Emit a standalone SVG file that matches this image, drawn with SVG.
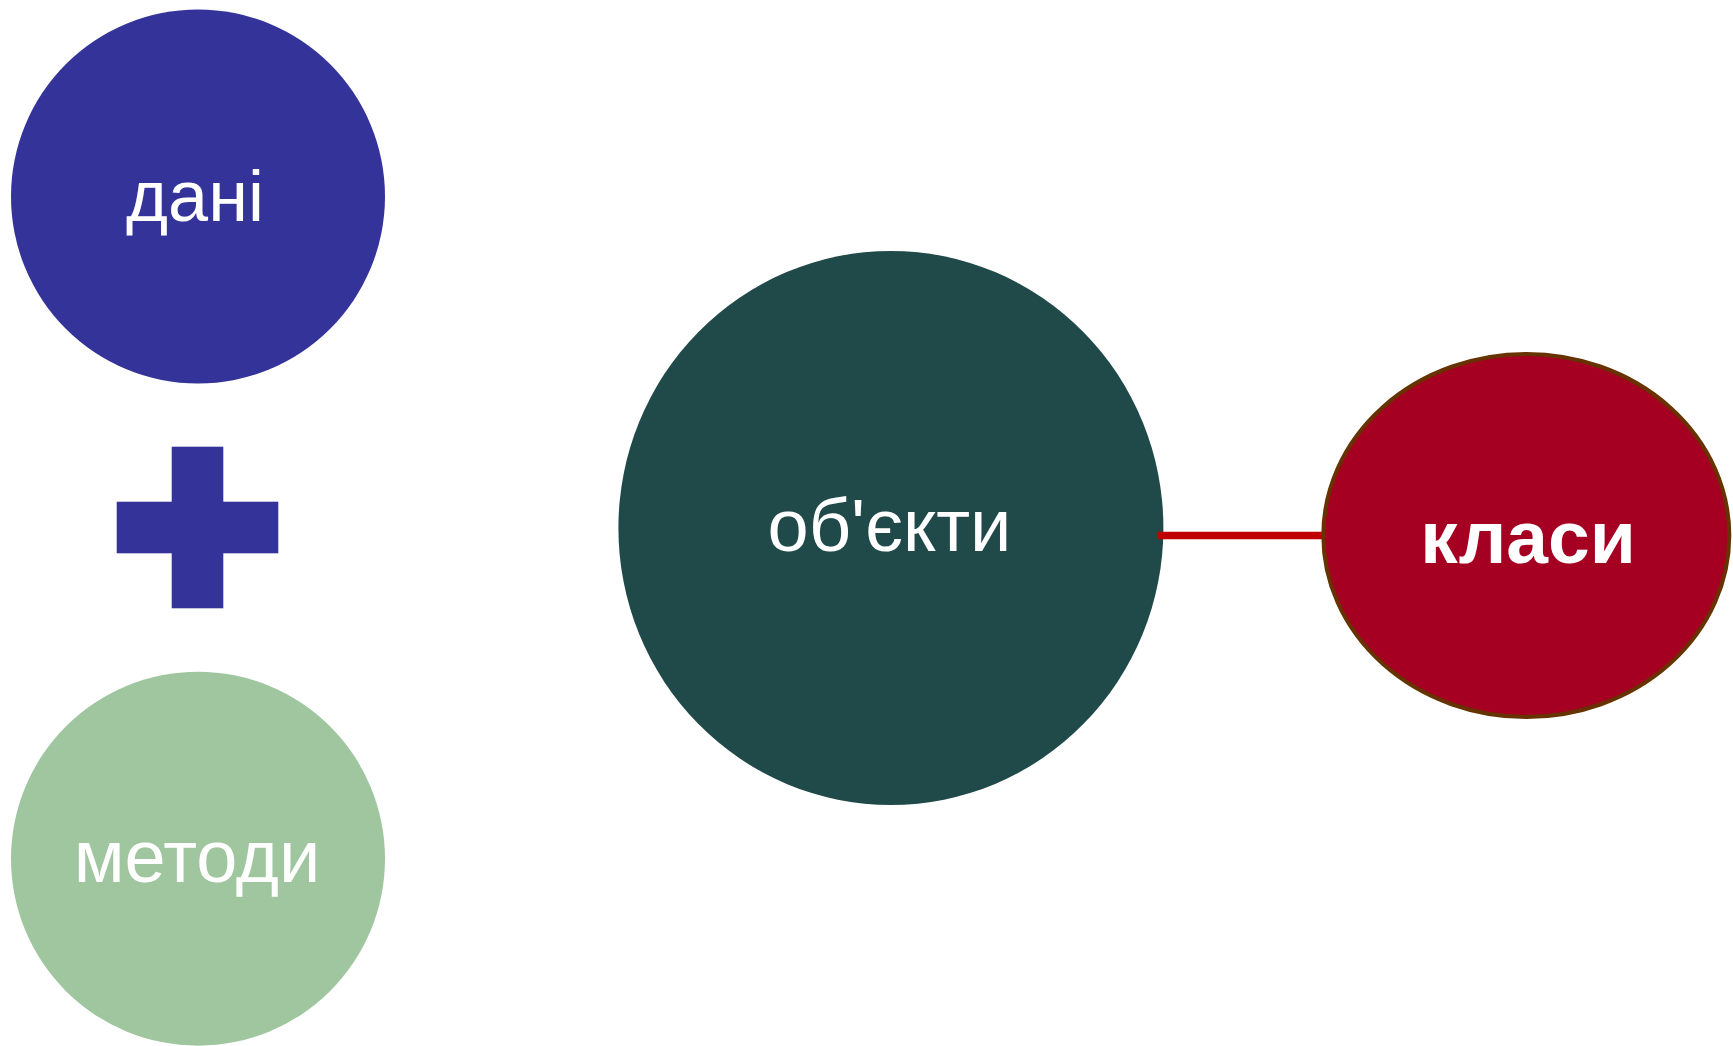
<svg xmlns="http://www.w3.org/2000/svg" width="1733" height="1046" viewBox="0 0 1733 1046">
  <style>
    .lbl { font-family: "Liberation Sans", Arial, sans-serif; fill: #FFFFFF; text-anchor: middle; }
    .bold { font-weight: bold; }
  </style>
  <rect width="1733" height="1046" fill="#FFFFFF"/>

  <g id="node-data">
    <circle cx="198" cy="196.5" r="187" fill="#333399"/>
    <text class="lbl" x="195" y="220.5" font-size="72">дані</text>
  </g>

  <g id="node-plus">
    <rect x="116.7" y="501.7" width="161.6" height="51.6" fill="#333399"/>
    <rect x="171.7" y="446.7" width="51.6" height="161.6" fill="#333399"/>
  </g>

  <g id="node-methods">
    <circle cx="198" cy="858.7" r="187" fill="#A0C6A0"/>
    <text class="lbl" x="197" y="881.7" font-size="74">методи</text>
  </g>

  <g id="node-objects">
    <ellipse cx="890.9" cy="528" rx="272.5" ry="277" fill="#20494A"/>
    <text class="lbl" x="889.5" y="550.5" font-size="74">об'єкти</text>
  </g>

  <!-- connector between objects and classes, drawn over the objects disc -->
  <g id="connectors">
    <line x1="1157" y1="535.5" x2="1323" y2="535.5" stroke="#C00000" stroke-width="7.5"/>
  </g>

  <g id="node-classes">
    <ellipse cx="1526.3" cy="535.5" rx="203" ry="181.5" fill="#A50021" stroke="#663300" stroke-width="4"/>
    <text class="lbl bold" x="1528" y="562.6" font-size="75">класи</text>
  </g>
</svg>
